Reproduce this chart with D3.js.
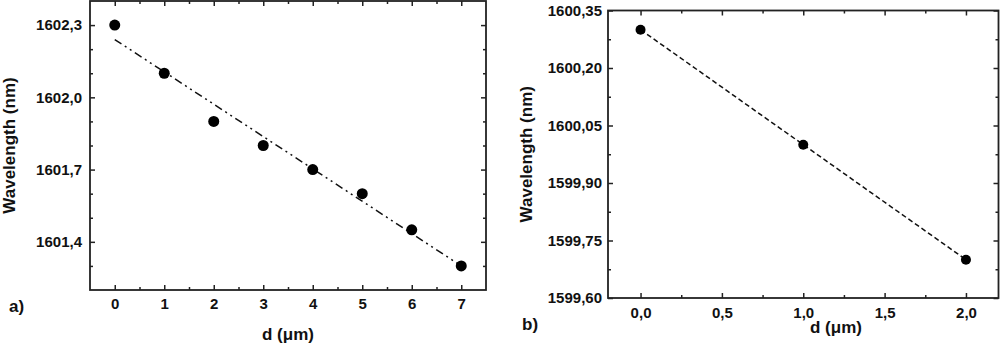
<!DOCTYPE html>
<html>
<head>
<meta charset="utf-8">
<script src="https://cdn.jsdelivr.net/npm/d3@7"></script>
<style>
  body { margin: 0; background: #fff; }
  svg { display: block; font-family: "Liberation Sans", Arial, sans-serif; }
  .tick text { font-weight: bold; fill: #111; }
  .domain { display: none; }
</style>
</head>
<body>
<svg id="chart" width="1000" height="349"></svg>
<script>
// panel a) data
const dA = [0, 1, 2, 3, 4, 5, 6, 7];
const wlA = [1602.3, 1602.1, 1601.9, 1601.8, 1601.7, 1601.6, 1601.45, 1601.3];
// linear fit drawn in panel a (end points)
const fitDA = [0, 7];
const fitWlA = [1602.24, 1601.30];
const xTicksA = [0, 1, 2, 3, 4, 5, 6, 7];
const xMinorA = [0.5, 1.5, 2.5, 3.5, 4.5, 5.5, 6.5];
const yTicksA = [1601.4, 1601.7, 1602.0, 1602.3];
const yMinorA = [1601.3, 1601.5, 1601.6, 1601.8, 1601.9, 1602.1, 1602.2];

// panel b) data
const dB = [0, 1, 2];
const wlB = [1600.30, 1600.00, 1599.70];
const xTicksB = [0, 0.5, 1, 1.5, 2];
const xMinorB = [0.25, 0.75, 1.25, 1.75];
const yTicksB = [1599.60, 1599.75, 1599.90, 1600.05, 1600.20, 1600.35];
const yMinorB = [1599.675, 1599.825, 1599.975, 1600.125, 1600.275];

const svg = d3.select('#chart');
const comma = (n) => (s) => d3.format('.' + n + 'f')(s).replace('.', ',');

const drawPanel = (p) => {
  const x = d3.scaleLinear().domain(p.xDomain).range([p.left, p.right]);
  const y = d3.scaleLinear().domain(p.yDomain).range([p.bottom, p.top]);
  const g = svg.append('g');

  // ticks, all pointing inward, on all four sides
  const put = (axis, tr) => {
    const a = g.append('g').attr('transform', tr).call(axis);
    a.selectAll('line').attr('stroke', '#222').attr('stroke-width', 1.5);
    return a;
  };
  put(d3.axisBottom(x).tickValues(p.xTicks).tickSize(-5).tickPadding(p.xPad).tickFormat(p.xFmt), `translate(0,${p.bottom})`)
    .selectAll('text').style('font-size', '15px');
  put(d3.axisBottom(x).tickValues(p.xMinor).tickSize(-3).tickFormat(''), `translate(0,${p.bottom})`);
  put(d3.axisTop(x).tickValues(p.xTicks).tickSize(-5).tickFormat(''), `translate(0,${p.top})`);
  put(d3.axisTop(x).tickValues(p.xMinor).tickSize(-3).tickFormat(''), `translate(0,${p.top})`);
  put(d3.axisLeft(y).tickValues(p.yTicks).tickSize(-5).tickPadding(p.yPad).tickFormat(p.yFmt), `translate(${p.left},0)`)
    .selectAll('text').style('font-size', '15px');
  put(d3.axisLeft(y).tickValues(p.yMinor).tickSize(-3).tickFormat(''), `translate(${p.left},0)`);
  put(d3.axisRight(y).tickValues(p.yTicks).tickSize(-5).tickFormat(''), `translate(${p.right},0)`);
  put(d3.axisRight(y).tickValues(p.yMinor).tickSize(-3).tickFormat(''), `translate(${p.right},0)`);

  // frame
  g.append('rect')
    .attr('x', p.left).attr('y', p.top)
    .attr('width', p.right - p.left).attr('height', p.bottom - p.top)
    .attr('fill', 'none').attr('stroke', '#222').attr('stroke-width', 1.8);

  const line = d3.line().x(d => x(d[0])).y(d => y(d[1]));
  g.append('path')
    .datum(d3.zip(p.lineX, p.lineY))
    .attr('d', line)
    .attr('fill', 'none')
    .attr('stroke', '#111')
    .attr('stroke-width', 1.5)
    .attr('stroke-dasharray', p.dash);

  g.selectAll('circle')
    .data(d3.zip(p.dataX, p.dataY))
    .enter().append('circle')
    .attr('cx', d => x(d[0]))
    .attr('cy', d => y(d[1]))
    .attr('r', p.r)
    .attr('fill', '#000');

  g.append('text')
    .attr('transform', `translate(${p.yLabelX},${(p.top + p.bottom) / 2}) rotate(-90)`)
    .attr('text-anchor', 'middle')
    .style('font-size', '17px').style('font-weight', 'bold').attr('fill', '#111')
    .text('Wavelength (nm)');

  g.append('text')
    .attr('x', p.xLabelX).attr('y', p.xLabelY)
    .attr('text-anchor', 'middle')
    .style('font-size', '17px').style('font-weight', 'bold').attr('fill', '#111')
    .text('d (\u03bcm)');

  g.append('text')
    .attr('x', p.tagX).attr('y', p.tagY)
    .style('font-size', '17px').style('font-weight', 'bold').attr('fill', '#111')
    .text(p.tag);
};

drawPanel({
  left: 90, right: 486, top: 1, bottom: 290,
  xDomain: [-0.5, 7.5], yDomain: [1601.2, 1602.4],
  xTicks: xTicksA, xMinor: xMinorA, yTicks: yTicksA, yMinor: yMinorA,
  xFmt: d3.format('d'), yFmt: comma(1), xPad: 8, yPad: 8,
  dataX: dA, dataY: wlA, lineX: fitDA, lineY: fitWlA,
  dash: '8,4,2,4,2,4', r: 5.5,
  yLabelX: 15, xLabelX: 288, xLabelY: 340, tag: 'a)', tagX: 9, tagY: 312,
});

drawPanel({
  left: 608, right: 998.5, top: 10.5, bottom: 298,
  xDomain: [-0.2, 2.2], yDomain: [1599.60, 1600.35],
  xTicks: xTicksB, xMinor: xMinorB, yTicks: yTicksB, yMinor: yMinorB,
  xFmt: comma(1), yFmt: comma(2), xPad: 9, yPad: 6,
  dataX: dB, dataY: wlB, lineX: dB, lineY: wlB,
  dash: '5,3', r: 5,
  yLabelX: 532, xLabelX: 836, xLabelY: 333, tag: 'b)', tagX: 522, tagY: 330,
});
</script>
</body>
</html>
